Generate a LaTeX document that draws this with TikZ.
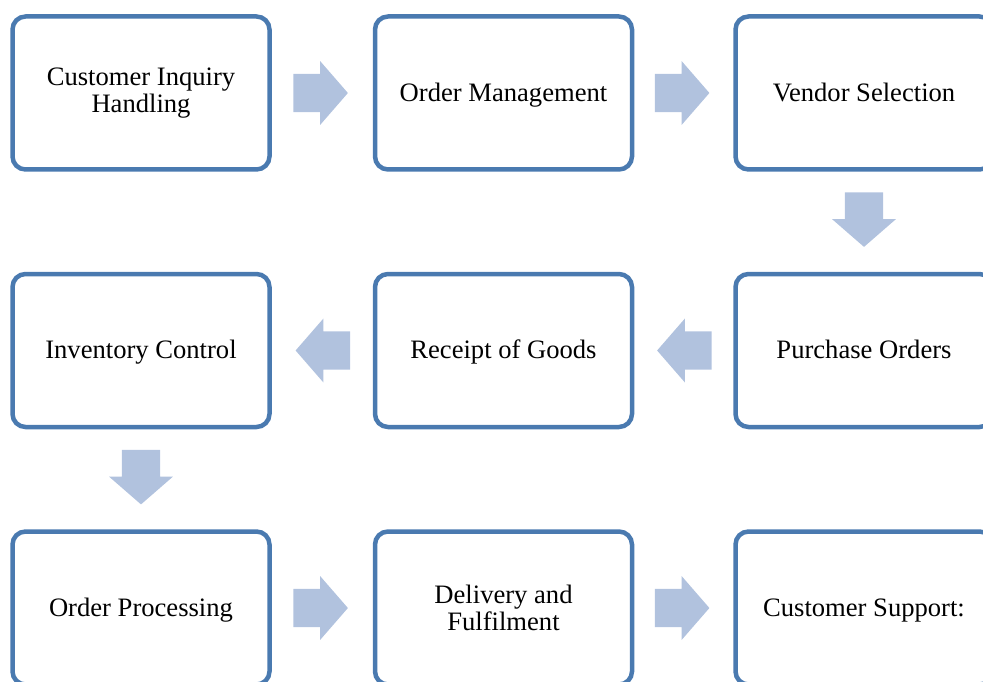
\documentclass[tikz,border=0pt]{standalone}
\usepackage{fontspec}
\setmainfont{Liberation Serif}
\usetikzlibrary{shapes.arrows,calc}
\definecolor{boxline}{RGB}{74,122,176}
\definecolor{arrowfill}{RGB}{177,194,222}
\begin{document}
\begin{tikzpicture}[x=1pt,y=-1pt,
  stepbox/.style={draw=boxline,line width=4.5pt,rounded corners=13pt,minimum width=257pt,minimum height=153pt,inner sep=0pt,align=center,font=\fontsize{26.6}{26.5}\selectfont},
  oneline/.style={stepbox,text height=20.5pt,text depth=4pt},
  flow/.style={single arrow,fill=arrowfill,draw=none,minimum height=54.6pt,inner xsep=0pt,inner ysep=19pt,single arrow head extend=12.65pt,single arrow tip angle=98,outer sep=0pt}]
\useasboundingbox (0,0) rectangle (983,682);
\clip (0,0) rectangle (983,682);
\node[stepbox] (n1) at (141,93) {Customer Inquiry\\Handling};
\node[oneline] (n2) at (503.5,93) {Order Management};
\node[oneline] (n3) at (864,93) {Vendor Selection};
\node[oneline] (n4) at (864,350.5) {Purchase Orders};
\node[oneline] (n5) at (503.5,350.5) {Receipt of Goods};
\node[oneline] (n6) at (141,350.5) {Inventory Control};
\node[oneline] (n7) at (141,608) {Order Processing};
\node[stepbox] (n8) at (503.5,608) {Delivery and\\Fulfilment};
\node[oneline] (n9) at (864,608) {Customer Support:};
\node[flow] (a12) at ($(n1.east)!0.5!(n2.west)+(-10,0)$) {};
\node[flow] (a23) at ($(n2.east)!0.5!(n3.west)+(-10,0)$) {};
\node[flow,rotate=-90] (a34) at ($(n3.south)!0.5!(n4.north)+(0,-10.5)$) {};
\node[flow,rotate=180] (a45) at ($(n4.west)!0.5!(n5.east)+(9,0)$) {};
\node[flow,rotate=180] (a56) at ($(n5.west)!0.5!(n6.east)+(9,0)$) {};
\node[flow,rotate=-90] (a67) at ($(n6.south)!0.5!(n7.north)+(0,-10.5)$) {};
\node[flow] (a78) at ($(n7.east)!0.5!(n8.west)+(-10,0)$) {};
\node[flow] (a89) at ($(n8.east)!0.5!(n9.west)+(-10,0)$) {};
\end{tikzpicture}
\end{document}
